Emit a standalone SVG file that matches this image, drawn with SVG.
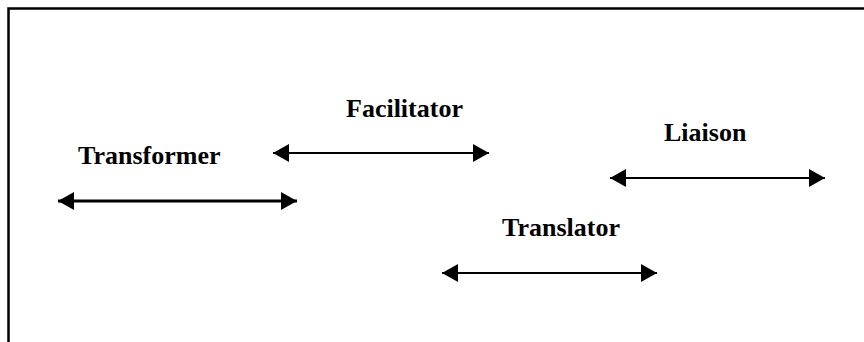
<svg xmlns="http://www.w3.org/2000/svg" width="864" height="342" viewBox="0 0 864 342">
<style>
.lbl{font-family:"Liberation Serif","Times New Roman",serif;font-weight:bold;font-size:26px;fill:#000}
.con{stroke:#000;fill:none}
</style>
<defs>
<marker id="ah" markerUnits="userSpaceOnUse" markerWidth="16" markerHeight="18" refX="16" refY="9" orient="auto-start-reverse">
<path d="M0,0 L16,9 L0,18 Z" fill="#000"/>
</marker>
</defs>
<rect width="864" height="342" fill="#fff"/>
<path d="M8.5,342 V8.5 H864" fill="none" stroke="#000" stroke-width="2.5"/>
<g id="transformer"><text class="lbl" x="78" y="164">Transformer</text></g>
<g id="facilitator"><text class="lbl" x="346" y="117">Facilitator</text></g>
<g id="liaison"><text class="lbl" x="664" y="141">Liaison</text></g>
<g id="translator"><text class="lbl" x="502" y="236">Translator</text></g>
<g id="connectors">
<line class="con" x1="58" y1="201" x2="297" y2="201" stroke-width="3" marker-start="url(#ah)" marker-end="url(#ah)"/>
<line class="con" x1="273" y1="153" x2="489" y2="153" stroke-width="2" marker-start="url(#ah)" marker-end="url(#ah)"/>
<line class="con" x1="610" y1="178" x2="825" y2="178" stroke-width="2" marker-start="url(#ah)" marker-end="url(#ah)"/>
<line class="con" x1="442" y1="273" x2="657" y2="273" stroke-width="2" marker-start="url(#ah)" marker-end="url(#ah)"/>
</g>
</svg>
